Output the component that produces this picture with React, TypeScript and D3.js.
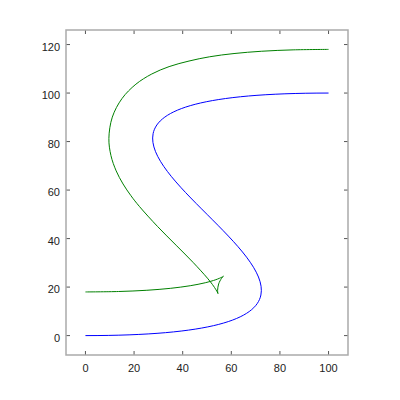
import React from "react";
import * as d3 from "d3";

// Blue curve: cubic Bézier control points (x, y)
const blueControl: [number, number][] = [
  [0, 0],
  [200, 0],
  [-100, 100],
  [100, 100],
];

// Green curve: offset curve points
const greenX = [
  0, 13.579, 25.256, 35.083, 43.093, 49.292, 53.653, 56.129, 56.662, 56.755,
  56.479, 55.948, 54.799, 54.361, 54.489, 54.519, 54.425, 53.72, 52.282, 50.172,
  44.387, 37.272, 29.637, 22.172, 18.688, 15.47, 12.643, 10.489, 9.639, 11.049,
  15.042, 20.755, 27.285, 34.403, 42.6, 51.093, 61.115, 72.506, 85.423, 100,
];
const greenY = [
  18, 18.177, 18.69, 19.502, 20.564, 21.794, 23.055, 24.092, 24.394, 24.456,
  24.198, 23.567, 21.317, 18.695, 17.431, 17.316, 17.551, 18.864, 20.997, 23.677,
  30.062, 37.272, 45.012, 53.277, 57.715, 62.514, 67.907, 74.231, 81.305, 90.067,
  97.749, 103.656, 107.86, 110.905, 113.2, 114.964, 116.296, 117.24, 117.809, 118,
];

const xTicks = [0, 20, 40, 60, 80, 100];
const yTicks = [0, 20, 40, 60, 80, 100, 120];

export default function App() {
  const W = 400;
  const H = 400;
  const left = 66;
  const right = 348;
  const top = 30;
  const bottom = 355;
  const x = d3.scaleLinear().domain([-8, 108]).range([left, right]);
  const y = d3.scaleLinear().domain([-8, 126]).range([bottom, top]);

  const bp = d3.path();
  bp.moveTo(x(blueControl[0][0]), y(blueControl[0][1]));
  bp.bezierCurveTo(
    x(blueControl[1][0]), y(blueControl[1][1]),
    x(blueControl[2][0]), y(blueControl[2][1]),
    x(blueControl[3][0]), y(blueControl[3][1])
  );

  const greenPts: [number, number][] = greenX.map((v, i) => [v, greenY[i]]);
  const line = d3
    .line<[number, number]>()
    .x((d) => x(d[0]))
    .y((d) => y(d[1]))
    .curve(d3.curveCatmullRom.alpha(0.5));

  const tickLen = 4;
  const font = "Liberation Sans, Arial, sans-serif";

  return (
    <svg
      width={W}
      height={H}
      style={{ position: "absolute", left: 0, top: 0, background: "#fff" }}
    >
      <rect x={0} y={0} width={W} height={H} fill="#fff" />
      {xTicks.map((t) => (
        <g key={"x" + t}>
          <line x1={x(t)} x2={x(t)} y1={bottom} y2={bottom - tickLen} stroke="#555" strokeWidth={1} />
          <line x1={x(t)} x2={x(t)} y1={top} y2={top + tickLen} stroke="#555" strokeWidth={1} />
          <text x={x(t)} y={bottom + 17} textAnchor="middle" fontSize={11} fontFamily={font} fill="#222">
            {t}
          </text>
        </g>
      ))}
      {yTicks.map((t) => (
        <g key={"y" + t}>
          <line x1={left} x2={left + tickLen} y1={y(t)} y2={y(t)} stroke="#555" strokeWidth={1} />
          <line x1={right} x2={right - tickLen} y1={y(t)} y2={y(t)} stroke="#555" strokeWidth={1} />
          <text x={left - 6} y={y(t) + 6} textAnchor="end" fontSize={11} fontFamily={font} fill="#222">
            {t}
          </text>
        </g>
      ))}
      <path d={bp.toString()} fill="none" stroke="#0000ff" strokeWidth={1} />
      <path d={line(greenPts) || ""} fill="none" stroke="#008000" strokeWidth={1} />
      <rect
        x={left}
        y={top}
        width={right - left}
        height={bottom - top}
        fill="none"
        stroke="#aaa"
        strokeWidth={1.5}
      />
    </svg>
  );
}
